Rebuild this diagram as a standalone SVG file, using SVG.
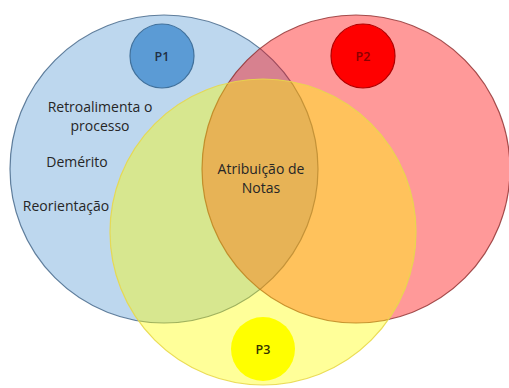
<svg xmlns="http://www.w3.org/2000/svg" width="509" height="388" viewBox="0 0 509 388">
<style>
.t{font-family:"Open Sans","Liberation Sans",sans-serif;font-size:14px;fill:#262626;text-anchor:middle}
.p{font-family:"Open Sans","Liberation Sans",sans-serif;font-size:12.5px;font-weight:600;text-anchor:middle}
.big{stroke-width:1.2}
</style>
<rect width="509" height="388" fill="#ffffff"/>
<g id="circle-blue">
<circle class="big" cx="164" cy="169" r="154" fill="#5b9bd5" fill-opacity="0.4" stroke="#3e6185" stroke-opacity="0.8"/>
</g>
<g id="circle-red">
<circle class="big" cx="356" cy="169" r="154" fill="#ff0000" fill-opacity="0.4" stroke="#8c2a2a" stroke-opacity="0.8"/>
</g>
<g id="circle-yellow">
<circle class="big" cx="263" cy="232" r="153" fill="#ffff00" fill-opacity="0.4" stroke="#e8d84a" stroke-opacity="0.9"/>
</g>
<g id="p1">
<circle cx="162" cy="56" r="32" fill="#5b9bd5" stroke="#41719c" stroke-width="1.2"/>
<text class="p" x="162" y="60.5" fill="#1f2f45">P1</text>
</g>
<g id="p2">
<circle cx="363" cy="56" r="32" fill="#ff0000" stroke="#b00000" stroke-width="1.2"/>
<text class="p" x="363" y="60.5" fill="#8a0000">P2</text>
</g>
<g id="p3">
<circle cx="263" cy="349" r="32" fill="#ffff00"/>
<text class="p" x="263" y="353.5" fill="#333300">P3</text>
</g>
<g id="labels-p1">
<text class="t" x="100" y="112">Retroalimenta o</text>
<text class="t" x="100" y="131">processo</text>
<text class="t" x="77" y="167">Demérito</text>
<text class="t" x="66" y="211">Reorientação</text>
</g>
<g id="label-center">
<text class="t" x="261" y="174">Atribuição de</text>
<text class="t" x="261" y="193">Notas</text>
</g>
</svg>
